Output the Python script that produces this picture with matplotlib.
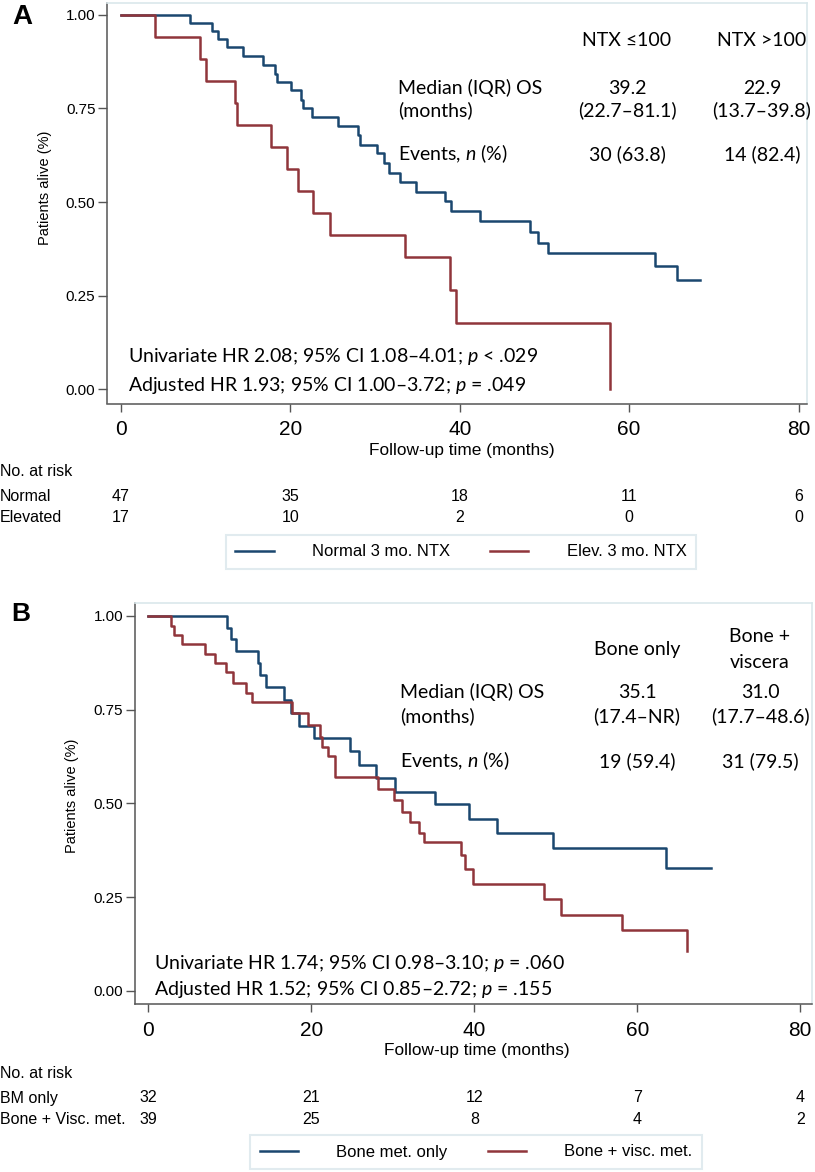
import matplotlib
matplotlib.use("Agg")
import matplotlib.pyplot as plt
import matplotlib.transforms as mtransforms

W, H = 815, 1172

# ---- panel A: 3-month NTX (survival step curves)
a_blue_t = [8.1, 10.7, 11.5, 12.5, 14.4, 16.8, 18.2, 18.4, 20.1, 21.3, 21.5, 22.5, 25.6, 28.0,
            28.2, 30.2, 31.0, 31.7, 32.9, 34.8, 38.3, 39.0, 42.4, 48.3, 49.2, 50.4, 63.0, 65.6]
a_blue_s = [0.979, 0.956, 0.936, 0.913, 0.891, 0.867, 0.843, 0.822, 0.800, 0.773, 0.751, 0.727,
            0.704, 0.680, 0.653, 0.631, 0.604, 0.578, 0.553, 0.528, 0.502, 0.477, 0.450, 0.421,
            0.392, 0.365, 0.328, 0.292]
a_blue_end = 68.4
a_red_t = [4.0, 9.3, 10.0, 13.45, 13.65, 17.7, 19.55, 20.85, 22.7, 24.7, 33.5, 38.9, 39.5, 57.7]
a_red_s = [0.941, 0.882, 0.824, 0.765, 0.706, 0.647, 0.588, 0.529, 0.471, 0.412, 0.353, 0.265,
           0.176, 0.0]
a_red_end = 57.7

# ---- panel B: bone only vs bone + viscera
b_blue_t = [9.7, 10.1, 10.8, 13.5, 13.7, 14.5, 16.7, 17.5, 18.5, 20.3, 24.8, 25.8, 28.0, 30.3,
            35.2, 39.3, 42.8, 49.6, 63.5]
b_blue_s = [0.967, 0.938, 0.907, 0.875, 0.843, 0.810, 0.776, 0.742, 0.707, 0.675, 0.640, 0.603,
            0.567, 0.531, 0.498, 0.458, 0.422, 0.380, 0.327]
b_blue_end = 69.0
b_red_t = [2.8, 3.1, 4.1, 7.0, 8.2, 9.5, 10.4, 12.0, 12.7, 17.6, 19.6, 21.1, 21.3, 22.1, 22.9,
           28.2, 30.1, 31.1, 32.1, 33.2, 33.8, 38.4, 38.9, 39.8, 48.6, 50.7, 58.1, 66.1]
b_red_s = [0.973, 0.949, 0.925, 0.899, 0.874, 0.849, 0.822, 0.794, 0.769, 0.741, 0.709, 0.678,
           0.651, 0.625, 0.571, 0.538, 0.509, 0.478, 0.451, 0.422, 0.396, 0.362, 0.326, 0.285,
           0.245, 0.203, 0.161, 0.107]
b_red_end = 66.1

# ---- numbers at risk
risk_times = [0, 20, 40, 60, 80]
a_risk_normal = [47, 35, 18, 11, 6]
a_risk_elev = [17, 10, 2, 0, 0]
b_risk_bone = [32, 21, 12, 7, 4]
b_risk_visc = [39, 25, 8, 4, 2]

x_ticks = [0, 20, 40, 60, 80]
y_ticks = [0, 0.25, 0.5, 0.75, 1.0]
y_tick_labels = ["0.00", "0.25", "0.50", "0.75", "1.00"]

BLUE = "#1a476f"
RED = "#90353b"
AXC = "#555555"
FRAME = "#dae7eb"
SANS = "Liberation Sans"
CAL = ["Lato", "DejaVu Sans"]

plt.rcParams["mathtext.fontset"] = "custom"
plt.rcParams["mathtext.rm"] = "Lato"
plt.rcParams["mathtext.it"] = "Lato:italic"


def fx(px):
    return px / W


def fy(py):
    return 1 - py / H


def km(t, s, end):
    tt = [0] + list(t) + [end]
    ss = [1.0] + list(s) + [s[-1]]
    return tt, ss


fig = plt.figure(figsize=(W / 100, H / 100), dpi=100)


def setup_axes(ax, xlim, ylim):
    ax.set_xlim(*xlim)
    ax.set_ylim(*ylim)
    for side in ["top", "right"]:
        ax.spines[side].set_color(FRAME)
        ax.spines[side].set_linewidth(1.2)
    for side in ["left", "bottom"]:
        ax.spines[side].set_color(AXC)
        ax.spines[side].set_linewidth(1.1)
    ax.set_yticks(y_ticks)
    ax.set_yticklabels(y_tick_labels, fontfamily=SANS, fontsize=11)
    ax.set_xticks(x_ticks)
    ax.set_xticklabels([str(v) for v in x_ticks], fontfamily=SANS, fontsize=15)
    ax.tick_params(axis="y", length=6.5, width=1, color=AXC, pad=2)
    ax.tick_params(axis="x", length=6, width=1, color=AXC, pad=6)


def risk_table(ax, rows, ys, header_y):
    tr = mtransforms.blended_transform_factory(ax.transData, fig.transFigure)
    fig.text(0.0, fy(header_y), "No. at risk", fontfamily=SANS, fontsize=11.5,
             ha="left", va="center")
    for (label, vals), y in zip(rows, ys):
        fig.text(0.0, fy(y), label, fontfamily=SANS, fontsize=11.5, ha="left", va="center")
        for t, v in zip(risk_times, vals):
            ax.text(t, fy(y), str(v), transform=tr, fontfamily=SANS, fontsize=11.5,
                    ha="center", va="center")


def add_legend(ax, handles, cx, cy):
    leg = ax.legend(handles=handles, loc="center", ncol=2,
                    bbox_to_anchor=(fx(cx), fy(cy)), bbox_transform=fig.transFigure,
                    prop={"family": SANS, "size": 12}, frameon=True, fancybox=False,
                    edgecolor=FRAME, handlelength=2.3, handletextpad=2.3, columnspacing=2.4,
                    borderpad=0.55)
    leg.get_frame().set_linewidth(1.5)
    return leg


fs = 14

# ================= panel A =================
axA = fig.add_axes([fx(107.3), fy(403.5), fx(807 - 107.3), (403.5 - 2.5) / H])
setup_axes(axA, (-1.62, 81.0), (-0.038, 1.033))
t, s = km(a_blue_t, a_blue_s, a_blue_end)
la_blue, = axA.step(t, s, where="post", color=BLUE, lw=1.8, label="Normal 3 mo. NTX")
t, s = km(a_red_t, a_red_s, a_red_end)
la_red, = axA.step(t, s, where="post", color=RED, lw=1.8, label="Elev. 3 mo. NTX")

fig.text(fx(22), fy(17), "A", fontfamily=SANS, fontweight="bold", fontsize=20,
         ha="center", va="center")
fig.text(fx(45), fy(389.3 - 0.54 * 374), "Patients alive (%)", fontfamily=SANS,
         fontsize=10.5, rotation=90, ha="center", va="center")
fig.text(fx(462), fy(450), "Follow-up time (months)", fontfamily=SANS, fontsize=12.4,
         ha="center", va="center")

fig.text(fx(627), fy(40), "NTX \u2264100", family=CAL, fontsize=fs, ha="center", va="center")
fig.text(fx(762), fy(40), "NTX >100", family=CAL, fontsize=fs, ha="center", va="center")
fig.text(fx(398), fy(88), "Median (IQR) OS", family=CAL, fontsize=fs, ha="left", va="center")
fig.text(fx(398), fy(110), "(months)", family=CAL, fontsize=fs, ha="left", va="center")
fig.text(fx(627), fy(88), "39.2", family=CAL, fontsize=fs, ha="center", va="center")
fig.text(fx(627), fy(110), "(22.7\u201381.1)", family=CAL, fontsize=fs, ha="center", va="center")
fig.text(fx(762), fy(88), "22.9", family=CAL, fontsize=fs, ha="center", va="center")
fig.text(fx(762), fy(110), "(13.7\u201339.8)", family=CAL, fontsize=fs, ha="center", va="center")
fig.text(fx(398), fy(154), "Events, $n$ (%)", family=CAL, fontsize=fs, ha="left", va="center")
fig.text(fx(627), fy(154), "30 (63.8)", family=CAL, fontsize=fs, ha="center", va="center")
fig.text(fx(762), fy(154), "14 (82.4)", family=CAL, fontsize=fs, ha="center", va="center")
fig.text(fx(128), fy(357), "Univariate HR 2.08; 95% CI 1.08\u20134.01; $p$ < .029", family=CAL,
         fontsize=fs, ha="left", va="center")
fig.text(fx(128), fy(385), "Adjusted HR 1.93; 95% CI 1.00\u20133.72; $p$ = .049", family=CAL,
         fontsize=fs, ha="left", va="center")

risk_table(axA, [("Normal", a_risk_normal), ("Elevated", a_risk_elev)], [497, 518], 472)
add_legend(axA, [la_blue, la_red], 461, 552)

# ================= panel B =================
axB = fig.add_axes([fx(135), fy(1004), fx(811.7 - 135), (1004 - 602.7) / H])
setup_axes(axB, (-1.63, 81.4), (-0.035, 1.035))
t, s = km(b_blue_t, b_blue_s, b_blue_end)
lb_blue, = axB.step(t, s, where="post", color=BLUE, lw=1.8, label="Bone met. only")
t, s = km(b_red_t, b_red_s, b_red_end)
lb_red, = axB.step(t, s, where="post", color=RED, lw=1.8, label="Bone + visc. met.")

fig.text(fx(21), fy(614), "B", fontfamily=SANS, fontweight="bold", fontsize=19,
         ha="center", va="center")
fig.text(fx(72), fy(991 - 0.52 * 375), "Patients alive (%)", fontfamily=SANS,
         fontsize=10.5, rotation=90, ha="center", va="center")
fig.text(fx(477), fy(1051), "Follow-up time (months)", fontfamily=SANS, fontsize=12.4,
         ha="center", va="center")

fig.text(fx(637), fy(650), "Bone only", family=CAL, fontsize=fs, ha="center", va="center")
fig.text(fx(760), fy(637), "Bone +", family=CAL, fontsize=fs, ha="center", va="center")
fig.text(fx(760), fy(663), "viscera", family=CAL, fontsize=fs, ha="center", va="center")
fig.text(fx(400), fy(692), "Median (IQR) OS", family=CAL, fontsize=fs, ha="left", va="center")
fig.text(fx(400), fy(716), "(months)", family=CAL, fontsize=fs, ha="left", va="center")
fig.text(fx(637), fy(692), "35.1", family=CAL, fontsize=fs, ha="center", va="center")
fig.text(fx(637), fy(716), "(17.4\u2013NR)", family=CAL, fontsize=fs, ha="center", va="center")
fig.text(fx(760), fy(692), "31.0", family=CAL, fontsize=fs, ha="center", va="center")
fig.text(fx(760), fy(716), "(17.7\u201348.6)", family=CAL, fontsize=fs, ha="center", va="center")
fig.text(fx(400), fy(761), "Events, $n$ (%)", family=CAL, fontsize=fs, ha="left", va="center")
fig.text(fx(637), fy(761), "19 (59.4)", family=CAL, fontsize=fs, ha="center", va="center")
fig.text(fx(760), fy(761), "31 (79.5)", family=CAL, fontsize=fs, ha="center", va="center")
fig.text(fx(154), fy(963), "Univariate HR 1.74; 95% CI 0.98\u20133.10; $p$ = .060", family=CAL,
         fontsize=fs, ha="left", va="center")
fig.text(fx(154), fy(990), "Adjusted HR 1.52; 95% CI 0.85\u20132.72; $p$ = .155", family=CAL,
         fontsize=fs, ha="left", va="center")

risk_table(axB, [("BM only", b_risk_bone), ("Bone + Visc. met.", b_risk_visc)], [1098, 1119], 1073)
add_legend(axB, [lb_blue, lb_red], 476, 1152)

fig.savefig("out.png", dpi=100)
